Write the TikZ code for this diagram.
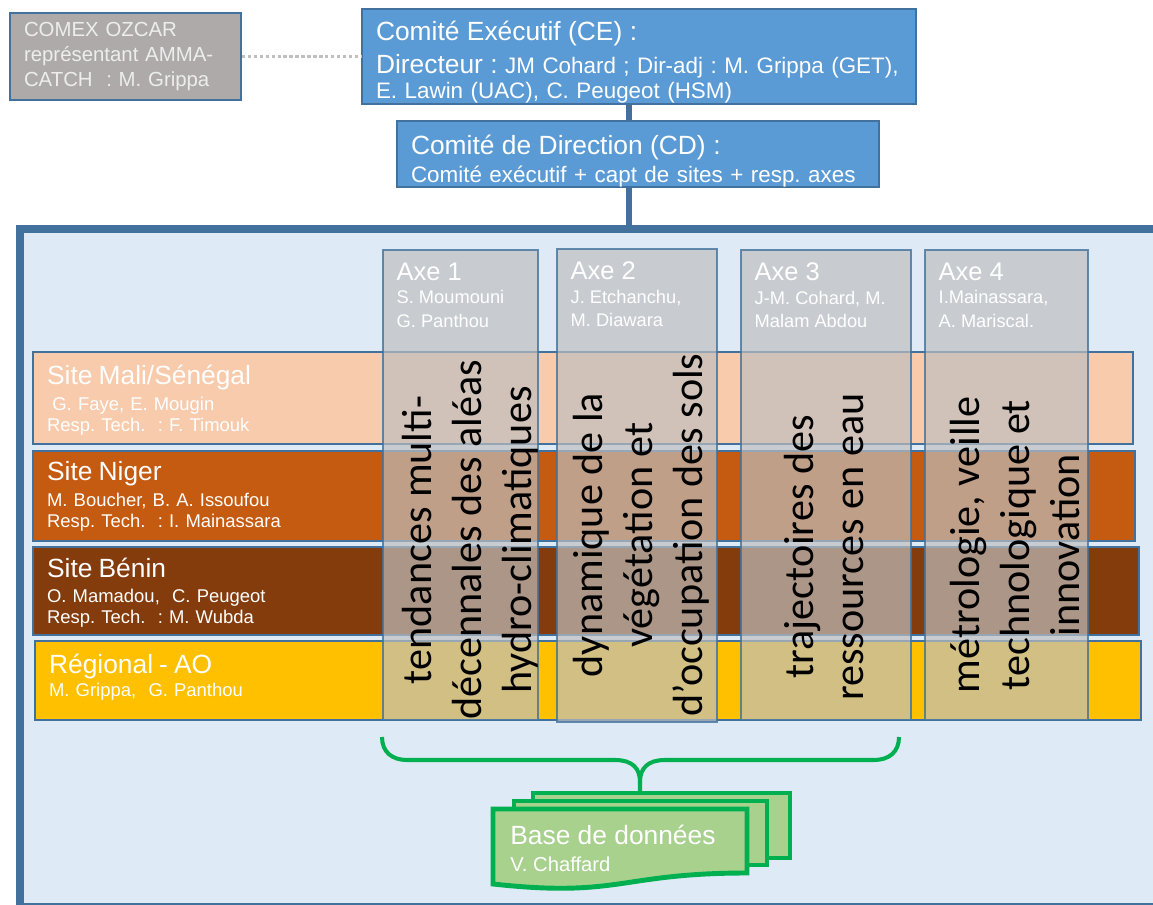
\documentclass[tikz,border=0pt]{standalone}
\usepackage{fontspec}
\setmainfont{Liberation Sans}
\newfontfamily\calibri{Carlito}
\usepackage{tikz}
\usetikzlibrary{positioning}

\definecolor{boxblue}{HTML}{5B9BD5}
\definecolor{edgeblue}{HTML}{41719C}
\definecolor{framefill}{HTML}{DEEAF6}
\definecolor{comexgray}{HTML}{AEAAAA}
\definecolor{malicol}{HTML}{F8CBAD}
\definecolor{nigercol}{HTML}{C55A11}
\definecolor{benincol}{HTML}{843C0C}
\definecolor{regcol}{HTML}{FFC000}
\definecolor{axegray}{HTML}{BFBFBF}
\definecolor{dbgreen}{HTML}{00B050}
\definecolor{dbfill}{HTML}{A9D18E}

\newcommand\bigtitle{\fontsize{15}{12}\selectfont}
\newcommand\axetitle{\fontsize{14.5}{13.5}\selectfont}

\begin{document}
\frenchspacing
\begin{tikzpicture}[x=0.02cm, y=-0.02cm,
    topbox/.style={draw=edgeblue, line width=0.8pt, fill=boxblue, text=white, align=left, inner xsep=0.28cm, inner ysep=0pt},
    siterow/.style={draw=edgeblue, line width=0.8pt, text=white, align=left, inner xsep=0.28cm, inner ysep=0pt, font=\fontsize{10.5}{12}\selectfont},
    axecol/.style={draw=edgeblue, draw opacity=0.8, line width=0.8pt, fill=axegray, fill opacity=0.69, minimum width=#1, minimum height=9.4cm, inner sep=0pt},
    axehead/.style={text=white, align=left, inner sep=0pt, font=\fontsize{10.4}{13.5}\selectfont},
    axetext/.style={rotate=90, align=center, inner sep=0pt, text=black, font=\calibri\fontsize{24}{28.35}\selectfont},
    link/.style={draw=edgeblue, line width=3.4pt},
    dotline/.style={draw=axegray, line width=2pt, dash pattern=on 1.8pt off 1.6pt},
    docpage/.style={draw=dbgreen, fill=dbfill, line width=2.8pt},
    brace/.style={draw=dbgreen, line width=2.3pt}]
      \useasboundingbox (0,0) rectangle (1153,905);

      %% big frame
      \node (frame) [draw=edgeblue, line width=4.5pt, fill=framefill, minimum width=22.9cm, minimum height=13.56cm, inner sep=0pt] at (592.5,568) {};

      %% committees
      \node (comex) [draw=edgeblue, line width=0.8pt, fill=comexgray, text=white!93!black, align=left, inner xsep=0.28cm, inner ysep=0pt, text width=4.06cm, minimum height=1.74cm, font=\fontsize{11.6}{14.2}\selectfont] at (125.5,56.5) {COMEX OZCAR\\représentant AMMA-\\CATCH\ \ : M. Grippa};
      \node (ce) [topbox, text width=10.52cm, minimum height=1.9cm, font=\fontsize{12.75}{14.5}\selectfont] at (639,56.5) {{\fontsize{15}{14.5}\selectfont\rule{0pt}{17.5pt}Comité Exécutif (CE) :}\\[4.2pt]\mbox{{\fontsize{15}{14.5}\selectfont Directeur :} JM Cohard ; Dir-adj : M. Grippa (GET),}\\E. Lawin (UAC), C. Peugeot (HSM)};
      \node (cd) [topbox, text width=9.08cm, minimum height=1.32cm, font=\fontsize{12.75}{16}\selectfont] at (638,154) {{\fontsize{15}{16}\selectfont\rule{0pt}{19pt}Comité de Direction (CD) :}\\Comité exécutif + capt de sites + resp. axes};

      \coordinate (spine) at (629,0);
      \draw[dotline] (comex.east) -- (ce.west);
      \draw[link] (ce.south -| spine) -- (cd.north -| spine);
      \draw[link] (cd.south -| spine) -- (frame.north -| spine);

      %% sites
      \node (mali) [siterow, fill=malicol, text width=21.44cm, minimum height=1.84cm] at (583,398) {{\bigtitle\rule{0pt}{14pt}Site Mali/Sénégal}\\[2.7pt]\hspace{3pt}G. Faye, E. Mougin\\Resp. Tech.\ \ : F. Timouk};
      \node (niger) [siterow, fill=nigercol, text width=21.48cm, minimum height=1.8cm] at (584,496) {{\bigtitle Site Niger}\\[2.7pt]M. Boucher, B. A. Issoufou\\Resp. Tech.\ \ : I. Mainassara};
      \node (benin) [siterow, fill=benincol, text width=21.56cm, minimum height=1.76cm] at (586,591) {{\bigtitle\rule{0pt}{13pt}Site Bénin}\\[2.7pt]O. Mamadou,\ \ C. Peugeot\\Resp. Tech.\ \ : M. Wubda};
      \node (regional) [siterow, fill=regcol, text width=21.56cm, minimum height=1.58cm] at (588,680.5) {{\bigtitle Régional - AO}\\[1pt]M. Grippa,\ \ G. Panthou\rule[-6pt]{0pt}{6pt}};

      %% axes
      \node (axe1) [axecol=3.1cm] at (460.5,485) {};
      \node (axe2) [axecol=3.2cm, minimum height=9.46cm] at (637,485.5) {};
      \node (axe3) [axecol=3.4cm] at (826,485) {};
      \node (axe4) [axecol=3.26cm] at (1006.5,485) {};

      \node (h1) [axehead, below right=0.26cm and 0.28cm of axe1.north west] {{\axetitle Axe 1}\\S. Moumouni\\G. Panthou};
      \node (h2) [axehead, below right=0.26cm and 0.28cm of axe2.north west] {{\axetitle Axe 2}\\J. Etchanchu,\\M. Diawara};
      \node (h3) [axehead, below right=0.26cm and 0.28cm of axe3.north west] {{\axetitle Axe 3}\\J-M. Cohard, M.\\Malam\ Abdou};
      \node (h4) [axehead, below right=0.26cm and 0.28cm of axe4.north west] {{\axetitle Axe 4}\\I.Mainassara,\\A. Mariscal.};

      \node (t1) [axetext] at (470,540) {tendances multi-\\décennales des aléas\\hydro-climatiques};
      \node (t2) [axetext] at (641,535) {dynamique de la\\végétation et\\d’occupation des sols};
      \node (t3) [axetext] at (824,547) {trajectoires des\\ressources en eau};
      \node (t4) [axetext] at (1015,545) {métrologie, veille\\technologique et\\innovation};

      %% data base
      \coordinate (dbtop) at (640,793);
      \draw[brace] (382,737) .. controls (382,752) and (392,760) .. (407,760) -- (615,760) .. controls (632,760) and (640,768) .. (640,782) -- (dbtop);
      \draw[brace] (640,782) .. controls (640,768) and (648,760) .. (665,760) -- (874,760) .. controls (889,760) and (899,752) .. (899,737);

      \filldraw[docpage] (533,793) rectangle (790,858);
      \filldraw[docpage] (514,801) rectangle (767,865);
      \filldraw[docpage] (493,809) -- (747,809) -- (747,873) .. controls (620,873) and (620,898) .. (493,884) -- cycle;
      \node (db) [anchor=north west, text=white, align=left, inner sep=0pt, font=\fontsize{11.5}{15}\selectfont] at (510,825) {{\fontsize{15}{15}\selectfont Base de données}\\V. Chaffard};

    \end{tikzpicture}
\end{document}
